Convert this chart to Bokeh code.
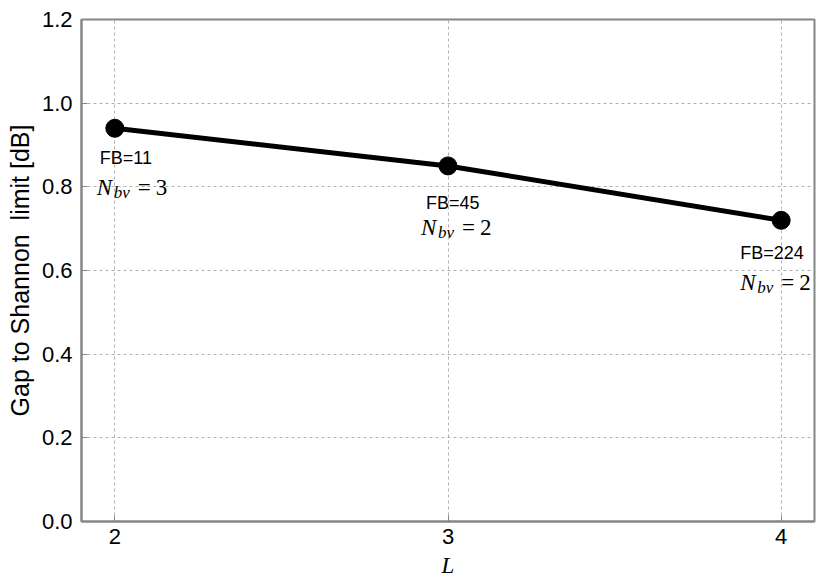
from bokeh.plotting import figure
from bokeh.models import ColumnDataSource, FixedTicker, Range1d, CustomJSTickFormatter
from bokeh.embed import file_html
from bokeh.resources import INLINE
from bokeh.core.properties import value

# data
L_values = [2, 3, 4]
gap_db = [0.94, 0.85, 0.72]
fb_labels = ["FB=11", "FB=45", "FB=224"]
nbv_values = ["3", "2", "2"]
y_ticks = [0.0, 0.2, 0.4, 0.6, 0.8, 1.0, 1.2]

# label placement (pixels, style only)
fb_dx = [-15, -22, -41]
fb_dy = [30, 37, 33]
n_dx = [-18, -27, -41]
n_dy = [59, 62, 62]

p = figure(width=822, height=580, output_backend="svg", toolbar_location=None,
           x_range=Range1d(1.9, 4.1), y_range=Range1d(0, 1.2),
           min_border_left=81, min_border_right=8, min_border_top=19, min_border_bottom=58)

p.background_fill_color = "white"
p.border_fill_color = "white"
p.outline_line_color = "#858585"
p.outline_line_width = 2

for ax in (p.xaxis[0], p.yaxis[0]):
    ax.axis_line_color = "#858585"
    ax.axis_line_width = 2
    ax.major_tick_in = 6
    ax.major_tick_out = 0
    ax.minor_tick_line_color = None
    ax.major_tick_line_color = "#858585"
    ax.major_label_text_font = "Liberation Sans"
    ax.major_label_text_font_size = "22px"
    ax.major_label_text_color = "black"

p.xaxis.ticker = FixedTicker(ticks=L_values)
p.yaxis.ticker = FixedTicker(ticks=y_ticks)
p.yaxis.formatter = CustomJSTickFormatter(code="return tick.toFixed(1);")
p.xaxis.major_label_standoff = 7
p.yaxis.major_label_standoff = 9

p.xaxis.axis_label = "L"
p.xaxis.axis_label_text_font = "Liberation Serif"
p.xaxis.axis_label_text_font_style = "italic"
p.xaxis.axis_label_text_font_size = "23px"
p.xaxis.axis_label_text_color = "black"
p.xaxis.axis_label_standoff = 6

p.yaxis.axis_label = "Gap to Shannon\u00a0\u00a0limit [dB]"
p.yaxis.axis_label_text_font = "Liberation Sans"
p.yaxis.axis_label_text_font_style = "normal"
p.yaxis.axis_label_text_font_size = "25px"
p.yaxis.axis_label_text_color = "black"
p.yaxis.axis_label_standoff = 5

p.xgrid.grid_line_color = "#b0b0b0"
p.ygrid.grid_line_color = "#b0b0b0"
p.xgrid.grid_line_dash = "3 3"
p.ygrid.grid_line_dash = "3 3"
p.xgrid.grid_line_width = 1
p.ygrid.grid_line_width = 1

src = ColumnDataSource(dict(x=L_values, y=gap_db, fb=fb_labels, nv=nbv_values,
                            N=["N"] * 3, bv=["bv"] * 3, eq=["="] * 3,
                            fbdx=fb_dx, fbdy=fb_dy,
                            ndx=n_dx, ndy=n_dy,
                            bvdx=[d + 17 for d in n_dx], bvdy=[d + 5 for d in n_dy],
                            eqdx=[d + 41 for d in n_dx],
                            vdx=[d + 59 for d in n_dx]))

p.line("x", "y", source=src, line_color="black", line_width=5)
p.scatter("x", "y", source=src, size=18, fill_color="black", line_color="black")

p.text("x", "y", text="fb", source=src, x_offset="fbdx", y_offset="fbdy",
       text_font=value("Liberation Sans"), text_font_size="18px",
       text_align="left", text_baseline="middle", text_color="black")
p.text("x", "y", text="N", source=src, x_offset="ndx", y_offset="ndy",
       text_font=value("Liberation Serif"), text_font_style="italic", text_font_size="23px",
       text_align="left", text_baseline="middle", text_color="black")
p.text("x", "y", text="bv", source=src, x_offset="bvdx", y_offset="bvdy",
       text_font=value("Liberation Serif"), text_font_style="italic", text_font_size="17px",
       text_align="left", text_baseline="middle", text_color="black")
p.text("x", "y", text="eq", source=src, x_offset="eqdx", y_offset="ndy",
       text_font=value("Liberation Serif"), text_font_size="23px",
       text_align="left", text_baseline="middle", text_color="black")
p.text("x", "y", text="nv", source=src, x_offset="vdx", y_offset="ndy",
       text_font=value("Liberation Serif"), text_font_size="23px",
       text_align="left", text_baseline="middle", text_color="black")

open("out.html", "w").write(file_html(p, INLINE))
